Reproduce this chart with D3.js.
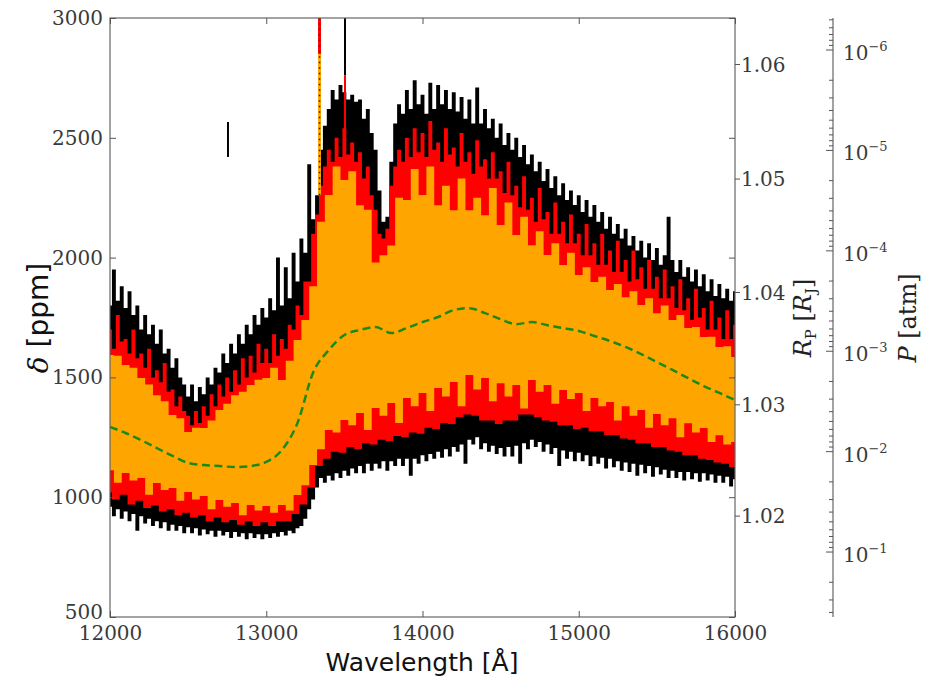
<!DOCTYPE html>
<html>
<head>
<meta charset="utf-8">
<script src="https://cdn.jsdelivr.net/npm/d3@7"></script>
<style>
  body { margin: 0; background: #fff; }
  .tick text { font-family: "DejaVu Serif", serif; font-size: 20px; fill: #3a3a3a; }
  .tick line { stroke: #555; }
  .domain { display: none; }
</style>
</head>
<body>
<svg id="chart" width="930" height="690"></svg>
<script>
// Transit depth spectrum, 12000–16000 Å.
// Outer envelope of the individual spectra (25 Å steps), ppm
const blackTop = [
  1800,1950,1820,1880,1790,1860,1760,1800,1700,1760,1680,1720,1640,1700,1600,1620,1540,1580,1500,1470,
  1420,1470,1400,1460,1430,1500,1470,1540,1520,1600,1560,1640,1600,1680,1640,1720,1680,1760,1720,1790,
  1750,1830,1780,2000,1800,1960,1830,2020,1900,2080,2020,2390,2160,2260,2450,2550,2620,2700,2660,2720,
  2690,2660,2680,2650,2660,2580,2620,2520,2450,2280,2150,2170,2400,2560,2640,2600,2700,2620,2740,2640,
  2680,2600,2730,2620,2720,2640,2700,2620,2690,2610,2670,2580,2660,2560,2710,2560,2620,2540,2580,2500,
  2560,2470,2520,2450,2500,2420,2470,2390,2430,2360,2400,2320,2370,2290,2340,2260,2310,2240,2280,2220,
  2260,2190,2240,2170,2220,2150,2190,2120,2170,2100,2140,2080,2120,2050,2090,2030,2070,2000,2060,1990,
  2040,1970,2010,2170,1990,1940,1990,1920,1960,1900,1950,1880,1930,1860,1910,1840,1890,1830,1870,1820,
  1860
];
const blackBot = [
  960,920,950,910,940,900,930,860,920,890,910,880,900,870,895,860,885,860,880,850,
  875,850,870,840,865,845,860,835,860,840,855,830,855,835,850,825,850,830,845,825,
  845,830,850,835,855,840,860,850,870,880,910,950,990,1040,1080,1060,1090,1070,1100,1080,
  1110,1090,1120,1100,1130,1100,1140,1110,1140,1120,1150,1110,1150,1130,1160,1130,1160,1090,1160,1140,
  1175,1150,1180,1160,1190,1165,1200,1170,1210,1190,1220,1140,1240,1220,1250,1200,1225,1190,1215,1180,
  1205,1170,1210,1170,1215,1140,1225,1200,1240,1210,1230,1190,1220,1180,1205,1130,1195,1160,1190,1150,
  1185,1150,1175,1130,1170,1140,1165,1120,1160,1125,1150,1110,1145,1105,1140,1090,1135,1100,1130,1085,
  1125,1095,1115,1080,1110,1080,1105,1070,1105,1075,1100,1065,1100,1070,1095,1060,1090,1060,1085,1045,
  1075
];
// Middle envelope: upper edge (25 Å steps), lower edge (50 Å steps), ppm
const redTop = [
  1700,1620,1760,1650,1660,1600,1700,1580,1600,1540,1620,1500,1530,1480,1560,1440,1450,1380,1420,1360,
  1340,1300,1360,1310,1380,1340,1430,1380,1470,1420,1500,1440,1530,1470,1580,1500,1590,1520,1640,1560,
  1620,1560,1680,1590,1660,1620,1720,1700,1800,1760,1900,1900,2100,2180,2300,2380,2450,2400,2500,2420,
  2540,2430,2480,2400,2440,2330,2380,2260,2200,2100,2080,2120,2300,2380,2450,2400,2500,2420,2540,2440,
  2520,2420,2570,2450,2480,2400,2540,2430,2460,2380,2520,2400,2440,2350,2490,2380,2410,2330,2440,2330,
  2360,2270,2400,2260,2300,2210,2340,2200,2250,2150,2290,2160,2190,2100,2230,2100,2150,2060,2180,2060,
  2100,2010,2140,2010,2060,1970,2100,1970,2030,1940,2070,1940,1990,1900,2030,1910,1960,1870,1990,1870,
  1920,1830,1950,1830,1880,1790,1910,1780,1830,1740,1870,1750,1790,1700,1820,1700,1750,1660,1780,1660,
  1720
];
const redBot = [
  1020,990,1010,970,985,955,965,940,950,925,
  935,915,925,900,915,895,905,885,900,880,
  895,880,900,900,930,970,1040,1130,1160,1190,
  1185,1210,1200,1225,1220,1240,1235,1255,1250,1270,
  1265,1290,1285,1310,1305,1335,1345,1340,1320,1320,
  1305,1320,1320,1345,1345,1335,1320,1315,1300,1300,
  1285,1290,1275,1275,1260,1260,1245,1240,1225,1225,
  1210,1210,1195,1190,1175,1175,1160,1155,1145,1140,
  1125
];
// Inner envelope (50 Å steps), ppm
const orangeTop = [
  1593,1590,1552,1540,1497,1470,1426,1400,1343,1330,
  1272,1290,1289,1320,1364,1390,1426,1440,1468,1490,
  1497,1540,1489,1570,1656,1740,1880,2150,2261,2380,
  2324,2360,2219,2200,1980,2010,2050,2250,2240,2370,
  2261,2380,2219,2300,2198,2330,2198,2250,2177,2290,
  2136,2230,2094,2170,2052,2110,2011,2060,1969,2020,
  1927,1960,1898,1920,1865,1890,1835,1860,1802,1830,
  1768,1800,1740,1760,1706,1710,1669,1670,1627,1630,
  1585
];
const orangeBot = [
  1113,1060,1101,1070,1080,1010,1059,1030,1038,985,
  1022,990,1005,950,988,960,976,925,967,945,
  963,935,967,945,1009,1050,1134,1200,1280,1270,
  1322,1300,1351,1280,1372,1340,1393,1310,1414,1380,
  1435,1360,1456,1420,1481,1380,1510,1450,1497,1400,
  1476,1420,1468,1370,1489,1440,1468,1390,1447,1410,
  1435,1360,1414,1380,1397,1320,1380,1340,1364,1290,
  1347,1300,1330,1250,1309,1270,1289,1230,1259,1220,
  1230
];
// Smoothed model (100 Å steps), ppm
const model = [
  1293,1268,1238,1205,1172,1143,1134,1130,1126,1130,
  1147,1197,1310,1520,1614,1677,1698,1710,1685,1706,
  1731,1752,1781,1789,1768,1743,1722,1731,1718,1706,
  1694,1673,1652,1627,1597,1564,1531,1497,1464,1435,
  1405
];
// Isolated features: wavelength (Å) and ppm range
const errSeg = { w: 12755, lo: 2420, hi: 2566 };
const spikeA = { w: 13341, lo: 2260, mid: 2850, hi: 3000 };
const spikeB = { w: 13504, lo: 2450, mid: 2760, hi: 3000 };

// Axis ticks
const deltaTicks = [500, 1000, 1500, 2000, 2500, 3000];
const waveTicks = [12000, 13000, 14000, 15000, 16000];
const rpTicks = [1.02, 1.03, 1.04, 1.05, 1.06];
const pTicks = [1e-6, 1e-5, 1e-4, 1e-3, 1e-2, 1e-1];

// Planet radius from transit depth: Rp^2 = R0^2 + delta * Rs^2
const R0 = 0.99987, RS = 6.644;
const deltaOfRp = r => (r * r - R0 * R0) / (RS * RS) * 1e6;

const svg = d3.select('#chart');
const L = 110, R = 735, T = 18, B = 617;
const x = d3.scaleLinear().domain([12000, 16000]).range([L, R]);
const y = d3.scaleLinear().domain([500, 3000]).range([B, T]);
const pScale = d3.scaleLog().domain([Math.pow(10, -6.319), Math.pow(10, -0.353)]).range([T, B]);

svg.append('defs').append('clipPath').attr('id', 'plotclip')
  .append('rect').attr('x', L).attr('y', T).attr('width', R - L).attr('height', B - T);

const plot = svg.append('g').attr('clip-path', 'url(#plotclip)');

// pair an upper and lower edge sampled on grids of their own
const band = (top, topStep, bot, botStep) => {
  const step = Math.min(topStep, botStep);
  const n = Math.round(4000 / step) + 1;
  return d3.range(n).map(i => {
    const w = 12000 + step * i;
    return { w, top: top[Math.round((w - 12000) / topStep)], bot: bot[Math.round((w - 12000) / botStep)] };
  });
};
const area = d3.area().x(d => x(d.w)).y0(d => y(d.bot)).y1(d => y(d.top)).curve(d3.curveStep);

plot.append('path').datum(band(blackTop, 25, blackBot, 25)).attr('d', area).attr('fill', '#000');
plot.append('path').datum(band(redTop, 25, redBot, 50)).attr('d', area).attr('fill', '#ff0000');
plot.append('path').datum(band(orangeTop, 50, orangeBot, 50)).attr('d', area).attr('fill', '#ffa500');

// vertical features
const vline = (w, lo, hi, color, width, dash) => {
  const l = plot.append('line')
    .attr('x1', x(w)).attr('x2', x(w)).attr('y1', y(lo)).attr('y2', y(hi))
    .attr('stroke', color).attr('stroke-width', width);
  if (dash) l.attr('stroke-dasharray', dash);
};
vline(errSeg.w, errSeg.lo, errSeg.hi, '#000', 2);
vline(spikeA.w, spikeA.lo, spikeA.mid, '#ffa500', 3);
vline(spikeA.w, spikeA.mid, spikeA.hi, '#ff0000', 3);
vline(spikeA.w, spikeA.lo, spikeA.hi, '#222', 1.5, '1.5,4');
vline(spikeB.w, spikeB.mid, spikeB.hi, '#000', 2);
vline(spikeB.w, spikeB.lo, spikeB.mid, '#ff0000', 2);

// model curve
plot.append('path').datum(model.map((v, i) => ({ w: 12000 + 100 * i, v })))
  .attr('d', d3.line().x(d => x(d.w)).y(d => y(d.v)).curve(d3.curveMonotoneX))
  .attr('fill', 'none').attr('stroke', '#1a8a1a').attr('stroke-width', 2.5)
  .attr('stroke-dasharray', '8,4.5');

// frame
svg.append('rect').attr('x', L).attr('y', T).attr('width', R - L).attr('height', B - T)
  .attr('fill', 'none').attr('stroke', '#666').attr('stroke-width', 1.2);

// delta axis (left) and mirrored ticks (right)
const leftAxis = svg.append('g').attr('transform', `translate(${L},0)`)
  .call(d3.axisLeft(y).tickValues(deltaTicks).tickSizeInner(-6).tickSizeOuter(0).tickPadding(7)
    .tickFormat(d3.format('d')));
// lowest label sits just above the corner so it clears the wavelength labels
leftAxis.selectAll('.tick text').filter(d => d === deltaTicks[0]).attr('dy', '0.05em');
svg.append('g').attr('transform', `translate(${R},0)`)
  .call(d3.axisRight(y).tickValues(deltaTicks).tickSizeInner(-6).tickSizeOuter(0).tickFormat(''));

// wavelength axis (bottom) and mirrored ticks (top)
svg.append('g').attr('transform', `translate(0,${B})`)
  .call(d3.axisBottom(x).tickValues(waveTicks).tickSizeInner(-6).tickSizeOuter(0).tickPadding(9)
    .tickFormat(d3.format('d')));
svg.append('g').attr('transform', `translate(0,${T})`)
  .call(d3.axisTop(x).tickValues(waveTicks).tickSizeInner(-6).tickSizeOuter(0).tickFormat(''));

// planet radius axis
const rpG = svg.append('g').attr('class', 'tick');
rpG.selectAll('line').data(rpTicks).join('line')
  .attr('x1', R).attr('x2', R + 5)
  .attr('y1', d => y(deltaOfRp(d))).attr('y2', d => y(deltaOfRp(d)));
rpG.selectAll('text').data(rpTicks).join('text')
  .attr('x', R + 6).attr('y', d => y(deltaOfRp(d))).attr('dy', '0.36em')
  .text(d => d3.format('.2f')(d));

// pressure axis
const PX = 833;
svg.append('line').attr('x1', PX).attr('x2', PX).attr('y1', T).attr('y2', B)
  .attr('stroke', '#666').attr('stroke-width', 1.2);
const minors = [];
for (let e = -7; e <= -1; e++) for (let k = 2; k <= 9; k++) {
  const v = k * Math.pow(10, e);
  if (v >= pScale.domain()[0] && v <= pScale.domain()[1]) minors.push(v);
}
svg.append('g').selectAll('line').data(minors).join('line')
  .attr('x1', PX - 4).attr('x2', PX).attr('y1', d => pScale(d)).attr('y2', d => pScale(d))
  .attr('stroke', '#555');
const pG = svg.append('g').attr('class', 'tick');
pG.selectAll('line').data(pTicks).join('line')
  .attr('x1', PX - 7).attr('x2', PX).attr('y1', d => pScale(d)).attr('y2', d => pScale(d));
const pLab = pG.selectAll('text').data(pTicks).join('text')
  .attr('x', PX + 10).attr('y', d => pScale(d) + 10);
pLab.append('tspan').text('10');
pLab.append('tspan').attr('dy', -9).style('font-size', '13px')
  .text(d => '\u2212' + Math.round(-Math.log10(d)));

// axis titles
const sans = '"DejaVu Sans", sans-serif', serif = '"DejaVu Serif", serif';
const dl = svg.append('text').attr('transform', 'translate(48,318) rotate(-90)')
  .attr('text-anchor', 'middle').style('font-family', sans).style('font-size', '28px').attr('fill', '#111');
dl.append('tspan').style('font-family', serif).style('font-style', 'italic').text('\u03b4');
dl.append('tspan').text(' [ppm]');

svg.append('text').attr('x', 422).attr('y', 671).attr('text-anchor', 'middle')
  .style('font-family', sans).style('font-size', '25px').attr('fill', '#111')
  .text('Wavelength [\u00c5]');

const rl = svg.append('text').attr('transform', 'translate(811,318) rotate(-90)')
  .attr('text-anchor', 'middle').style('font-family', serif).style('font-size', '24px').attr('fill', '#222');
rl.append('tspan').style('font-style', 'italic').text('R');
rl.append('tspan').attr('dy', 5).style('font-size', '15px').text('P');
rl.append('tspan').attr('dy', -5).text(' [');
rl.append('tspan').style('font-style', 'italic').text('R');
rl.append('tspan').attr('dy', 5).style('font-size', '15px').text('J');
rl.append('tspan').attr('dy', -5).text(']');

const pl = svg.append('text').attr('transform', 'translate(916,318) rotate(-90)')
  .attr('text-anchor', 'middle').style('font-family', serif).style('font-size', '24px').attr('fill', '#222');
pl.append('tspan').style('font-style', 'italic').text('P');
pl.append('tspan').text(' [atm]');
</script>
</body>
</html>
